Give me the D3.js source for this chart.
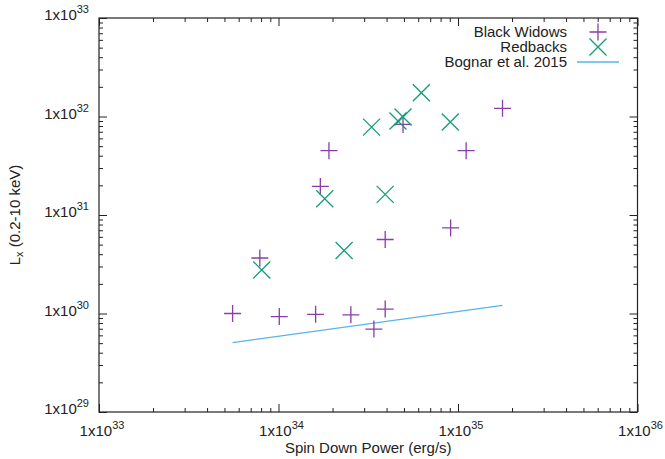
<!DOCTYPE html>
<html>
<head>
<meta charset="utf-8">
<script src="https://cdn.jsdelivr.net/npm/d3@7"></script>
<style>
body { margin: 0; background: #fff; }
text { font-family: "Liberation Sans", Arial, sans-serif; fill: #222; }
</style>
</head>
<body>
<svg id="chart" width="665" height="459"></svg>
<script>
// data (spin down power erg/s, Lx erg/s)
var bwEdot = [5.55e33, 1.01e34, 1.61e34, 2.53e34, 3.93e34, 3.40e34, 7.87e33, 3.93e34, 9.1e34, 1.71e34, 1.91e34, 1.11e35, 1.77e35, 4.94e34];
var bwLx   = [1.0e30, 9.3e29, 9.8e29, 9.7e29, 1.11e30, 6.95e29, 3.66e30, 5.64e30, 7.4e30, 1.95e31, 4.5e31, 4.5e31, 1.21e32, 8.3e31];
var rbEdot = [8.07e33, 2.32e34, 1.81e34, 3.93e34, 3.30e34, 4.63e34, 4.94e34, 9.06e34, 6.25e34];
var rbLx   = [2.77e30, 4.36e30, 1.46e31, 1.62e31, 7.8e31, 9.0e31, 9.9e31, 8.8e31, 1.74e32];
var bogEdot = [5.55e33, 1.77e35];
var bogLx   = [5.07e29, 1.21e30];
var xTicks = [1e33, 1e34, 1e35, 1e36];
var yTicks = [1e29, 1e30, 1e31, 1e32, 1e33];
var legendNames = ["Black Widows", "Redbacks", "Bognar et al. 2015"];

var colBW = "#8a3ca8", colRB = "#109e76", colBog = "#56b4e9";

var svg = d3.select("#chart");
var pLeft = 99, pRight = 637.5, pTop = 18, pBottom = 412;

var x = d3.scaleLog().domain([1e33, 1e36]).range([pLeft, pRight]);
var y = d3.scaleLog().domain([1e29, 1e33]).range([pBottom, pTop]);

function minors(ticks) {
	var m = [];
	for (var i = 0; i < ticks.length - 1; i++) {
		for (var k = 2; k <= 9; k++) m.push(ticks[i] * k);
	}
	return m;
}

// ticks, all pointing inwards, mirrored on top / right
var g = svg.append("g");
function addAxis(axisFn, scale, vals, size, tr) {
	var a = g.append("g").attr("transform", tr)
		.call(axisFn(scale).tickValues(vals).tickSize(size).tickSizeOuter(0).tickFormat(""));
	a.select(".domain").remove();
	a.selectAll("line").attr("stroke", "#222").attr("stroke-width", 1);
}
addAxis(d3.axisBottom, x, xTicks, -8, "translate(0," + pBottom + ")");
addAxis(d3.axisBottom, x, minors(xTicks), -4, "translate(0," + pBottom + ")");
addAxis(d3.axisTop, x, xTicks, -8, "translate(0," + pTop + ")");
addAxis(d3.axisTop, x, minors(xTicks), -4, "translate(0," + pTop + ")");
addAxis(d3.axisLeft, y, yTicks, -8, "translate(" + pLeft + ",0)");
addAxis(d3.axisLeft, y, minors(yTicks), -4, "translate(" + pLeft + ",0)");
addAxis(d3.axisRight, y, yTicks, -8, "translate(" + pRight + ",0)");
addAxis(d3.axisRight, y, minors(yTicks), -4, "translate(" + pRight + ",0)");

g.append("rect")
	.attr("x", pLeft).attr("y", pTop)
	.attr("width", pRight - pLeft).attr("height", pBottom - pTop)
	.attr("fill", "none").attr("stroke", "#222").attr("stroke-width", 1.2);

function powLabel(sel, v) {
	var e = Math.round(Math.log10(v));
	sel.append("tspan").text("1x10");
	sel.append("tspan").attr("dy", -7).style("font-size", "11px").text(e);
}

xTicks.forEach(function(v) {
	var t = svg.append("text").attr("x", x(v) + 3).attr("y", pBottom + 24)
		.attr("text-anchor", "middle").style("font-size", "15px");
	powLabel(t, v);
});
yTicks.forEach(function(v) {
	var t = svg.append("text").attr("x", pLeft - 10).attr("y", y(v) + 2)
		.attr("text-anchor", "end").style("font-size", "15px");
	powLabel(t, v);
});

svg.append("text").attr("x", (pLeft + pRight) / 2).attr("y", 453)
	.attr("text-anchor", "middle").style("font-size", "15px")
	.text("Spin Down Power (erg/s)");

var yl = svg.append("text")
	.attr("transform", "translate(20," + ((pTop + pBottom) / 2) + ") rotate(-90)")
	.attr("text-anchor", "middle").style("font-size", "15px");
yl.append("tspan").text("L");
yl.append("tspan").attr("dy", 3).style("font-size", "11px").text("x");
yl.append("tspan").attr("dy", -3).text(" (0.2-10 keV)");

// markers
var s = 8.5;
function plus(sel, cx, cy) {
	sel.append("path")
		.attr("d", "M" + (cx - s) + "," + cy + "H" + (cx + s) + "M" + cx + "," + (cy - s) + "V" + (cy + s))
		.attr("stroke", colBW).attr("stroke-width", 1.3).attr("fill", "none");
}
function cross(sel, cx, cy) {
	sel.append("path")
		.attr("d", "M" + (cx - s) + "," + (cy - s) + "L" + (cx + s) + "," + (cy + s) +
			"M" + (cx - s) + "," + (cy + s) + "L" + (cx + s) + "," + (cy - s))
		.attr("stroke", colRB).attr("stroke-width", 1.3).attr("fill", "none");
}

var line = d3.line().x(function(d) { return x(d[0]); }).y(function(d) { return y(d[1]); });
svg.append("path").datum(d3.zip(bogEdot, bogLx)).attr("d", line)
	.attr("stroke", colBog).attr("stroke-width", 1.3).attr("fill", "none");

var pts = svg.append("g");
bwEdot.forEach(function(v, i) { plus(pts, x(v), y(bwLx[i])); });
rbEdot.forEach(function(v, i) { cross(pts, x(v), y(rbLx[i])); });

// legend
var lg = svg.append("g");
var ly = [32, 47, 62];
legendNames.forEach(function(n, i) {
	lg.append("text").attr("x", 567).attr("y", ly[i] + 5)
		.attr("text-anchor", "end").style("font-size", "15px").text(n);
});
plus(lg, 598, ly[0]);
cross(lg, 598, ly[1]);
lg.append("line").attr("x1", 577).attr("x2", 619).attr("y1", ly[2]).attr("y2", ly[2])
	.attr("stroke", colBog).attr("stroke-width", 1.3);
</script>
</body>
</html>
